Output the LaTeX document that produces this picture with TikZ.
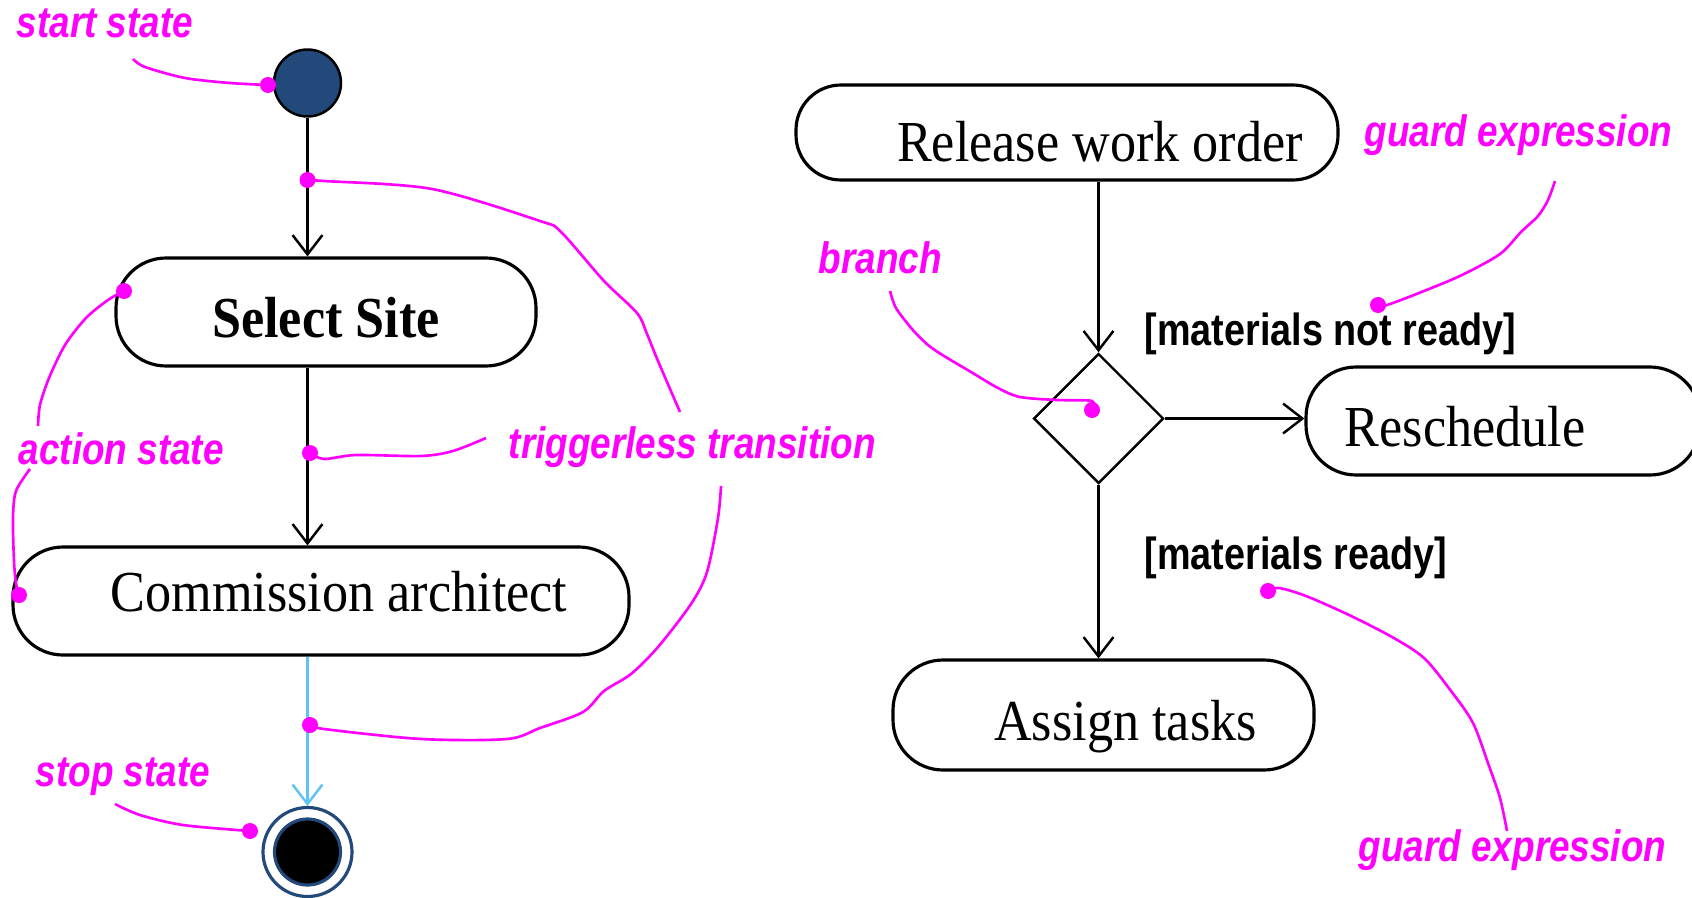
\documentclass[tikz,border=0pt]{standalone}
\usepackage{fontspec}
\setmainfont{Liberation Serif}[FakeStretch=0.9]
\newfontfamily\notefont[FakeStretch=0.84]{Liberation Sans}
\usetikzlibrary{shapes.geometric, arrows.meta, positioning}
\definecolor{startblue}{RGB}{35,72,122}
\definecolor{notepink}{RGB}{255,0,255}
\definecolor{flowblue}{RGB}{95,195,245}

\tikzset{
  action/.style={draw, line width=0.9pt, rectangle, rounded corners=0.5cm,
    minimum height=1.08cm, inner sep=0pt, text height=0.5cm, text depth=0cm,
    font=\fontsize{16.5}{18}\selectfont},
  flow/.style={-{Straight Barb[length=5.5pt,width=8.5pt]}, line width=0.7pt},
  note/.style={notepink, line width=0.75pt},
  notetext/.style={text=notepink, anchor=base west, inner sep=0pt,
    font=\notefont\bfseries\itshape\fontsize{12.5}{14}\selectfont},
  guard/.style={anchor=base west, inner sep=0pt,
    font=\notefont\bfseries\fontsize{12.8}{14}\selectfont}
}

\begin{document}
\begin{tikzpicture}
  \useasboundingbox (0,0) rectangle (16.92,-8.98);
  % left: site selection
  \node[circle, draw, line width=0.7pt, fill=startblue, minimum size=0.67cm, inner sep=0pt] (start) at (3.075,-0.83) {};
  \node[action, minimum width=4.20cm, font=\bfseries\fontsize{16.5}{18}\selectfont] (site) at (3.26,-3.12) {Select Site};
  \node[action, minimum width=6.16cm] (commission) at (3.21,-6.01) {\hspace*{0.36cm}\raisebox{0.15cm}{Commission architect}};
  \node[circle, draw=startblue, line width=0.9pt, minimum size=0.89cm, inner sep=0pt] (stop) at (3.075,-8.52) {};
  \filldraw[fill=black, draw=startblue, line width=0.9pt] (stop.center) circle (0.33);
  \draw[flow] (start.south) -- (start.south |- site.north);
  \draw[flow] (site.south -| start.south) -- (start.south |- commission.north);
  \draw[flow, flowblue] (commission.south -| stop.north) -- (stop.north);

  % right: work order
  \node[action, minimum width=5.42cm, minimum height=0.95cm, rounded corners=0.45cm] (release) at (10.67,-1.325) {\hspace*{0.66cm}\raisebox{-0.04cm}{Release work order}};
  \node[diamond, draw, line width=0.7pt, minimum width=1.30cm, minimum height=1.30cm, inner sep=0pt] (branch) at (10.985,-4.185) {};
  \node[action, minimum width=3.94cm] (reschedule) at (15.03,-4.21) {Reschedule\hspace*{0.76cm}};
  \node[action, minimum width=4.21cm, minimum height=1.10cm] (assign) at (11.035,-7.15) {\hspace*{0.44cm}Assign tasks};
  \draw[flow] (release.south -| branch.north) -- (branch.north);
  \draw[flow] (branch.east) -- (branch.east -| reschedule.west);
  \draw[flow] (branch.south) -- (branch.south |- assign.north);
  \node[guard] (notready) at (11.44,-3.45) {[materials not ready]};
  \node[guard] (ready) at (11.44,-5.69) {[materials ready]};

  % annotations
  \node[notetext] (startnote) at (0.16,-0.38) {start state};
  \node[notetext] (actionnote) at (0.18,-4.64) {action state};
  \node[notetext] (trignote) at (5.08,-4.58) {triggerless transition};
  \node[notetext] (stopnote) at (0.35,-7.86) {stop state};
  \node[notetext] (branchnote) at (8.18,-2.73) {branch};
  \node[notetext] (guardnote) at (13.64,-1.47) {guard expression};
  \node[notetext] (guardnote2) at (13.58,-8.61) {guard expression};

  \coordinate (sdot) at (2.68,-0.85);
  \coordinate (tdot1) at (3.075,-1.80);
  \coordinate (adot1) at (1.24,-2.91);
  \coordinate (adot2) at (0.19,-5.95);
  \coordinate (tdot2) at (3.10,-4.53);
  \coordinate (tdot3) at (3.10,-7.25);
  \coordinate (xdot) at (2.50,-8.31);
  \coordinate (bdot) at (10.92,-4.10);
  \coordinate (gdot1) at (13.78,-3.05);
  \coordinate (gdot2) at (12.68,-5.91);

  \draw[note] plot[smooth] coordinates {(1.33,-0.59) (1.45,-0.67) (1.85,-0.78) (2.30,-0.83) (sdot)};
  \draw[note] plot[smooth] coordinates {(tdot1) (3.24,-1.81) (4.32,-1.89) (5.40,-2.21) (5.61,-2.32) (6.04,-2.81) (6.37,-3.13) (6.47,-3.34) (6.58,-3.61) (6.80,-4.12)};
  \draw[note] plot[smooth] coordinates {(0.38,-4.26) (0.40,-4.05) (0.49,-3.78) (0.65,-3.45) (0.86,-3.18) (1.08,-3.00) (adot1)};
  \draw[note] plot[smooth] coordinates {(0.30,-4.69) (0.16,-4.91) (0.13,-5.18) (0.14,-5.61) (0.16,-5.83) (adot2)};
  \draw[note] plot[smooth] coordinates {(tdot2) (3.24,-4.59) (3.56,-4.55) (4.21,-4.56) (4.53,-4.51) (4.86,-4.38)};
  \draw[note] plot[smooth] coordinates {(7.21,-4.86) (7.18,-5.18) (7.07,-5.72) (6.91,-6.04) (6.58,-6.47) (6.31,-6.74) (6.04,-6.91) (5.83,-7.12) (5.40,-7.28) (5.07,-7.39) (4.21,-7.39) (3.24,-7.29) (tdot3)};
  \draw[note] plot[smooth] coordinates {(1.15,-8.04) (1.40,-8.15) (1.83,-8.25) (xdot)};
  \draw[note] plot[smooth] coordinates {(8.90,-2.91) (8.96,-3.08) (9.12,-3.29) (9.28,-3.45) (9.44,-3.56) (9.71,-3.72) (9.98,-3.88) (10.20,-3.97) (10.57,-4.00) (10.92,-4.01) (bdot)};
  \draw[note] plot[smooth] coordinates {(15.55,-1.81) (15.48,-2.00) (15.38,-2.16) (15.21,-2.32) (15.00,-2.54) (14.62,-2.75) (14.24,-2.91) (13.87,-3.05) (gdot1)};
  \draw[note] plot[smooth] coordinates {(15.07,-8.31) (15.00,-7.98) (14.89,-7.66) (14.73,-7.23) (14.51,-6.91) (14.24,-6.58) (13.92,-6.37) (13.49,-6.15) (13.06,-5.96) (12.79,-5.88) (gdot2)};
  \foreach \d in {sdot,tdot1,adot1,adot2,tdot2,tdot3,xdot,bdot,gdot1,gdot2}
    \fill[notepink] (\d) circle (0.08);
\end{tikzpicture}
\end{document}
